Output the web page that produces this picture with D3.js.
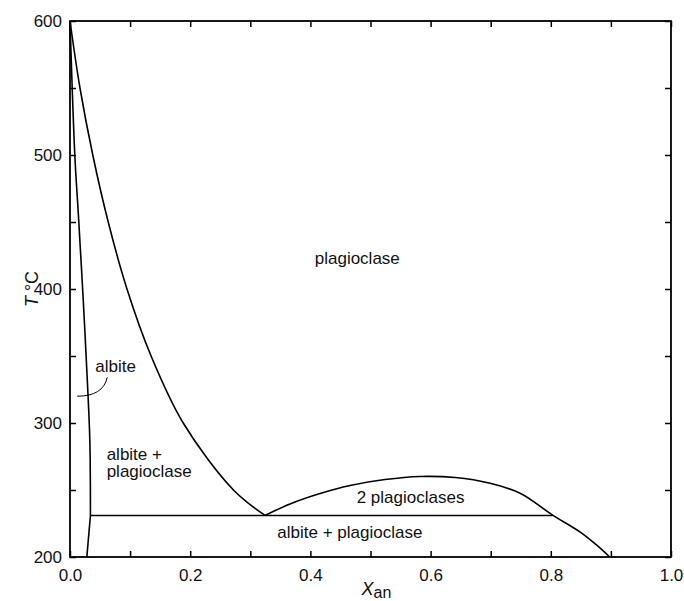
<!DOCTYPE html>
<html>
<head>
<meta charset="utf-8">
<script src="https://cdn.jsdelivr.net/npm/d3@7"></script>
<style>
  body { margin: 0; background: #fff; }
  text { font-family: "Liberation Sans", Arial, Helvetica, sans-serif; }
</style>
</head>
<body>
<div id="chart"></div>
<script>
// boundary curves, [X_an, T]
const albiteLine = [[0, 600], [0.008, 500], [0.014, 455], [0.022, 392], [0.029, 330], [0.033, 287], [0.034, 231]];
const albiteLow = [[0.034, 231], [0.028, 200]];
const plagLine = [[0, 600], [0.0166, 550], [0.0379, 500], [0.0636, 450], [0.0948, 400], [0.1349, 350],
  [0.1884, 300], [0.272, 250], [0.3245, 231]];
const solvus = [[0.3245, 231], [0.366, 239.6], [0.416, 247.4], [0.466, 253.4], [0.524, 257.8], [0.582, 260.1],
  [0.641, 259.3], [0.699, 255], [0.749, 247.6], [0.803, 231.3], [0.849, 218.6], [0.876, 209], [0.898, 200]];
const eutectoid = [[0.034, 231], [0.803, 231]];

const xTicks = d3.range(0, 1.01, 0.1);
const yTicks = d3.range(200, 601, 50);

const labels = [
  { t: "plagioclase", x: 0.478, y: 419, anchor: "middle" },
  { t: "albite", x: 0.042, y: 338, anchor: "start" },
  { t: "albite +", x: 0.061, y: 272.6, anchor: "start" },
  { t: "plagioclase", x: 0.061, y: 259.5, anchor: "start" },
  { t: "2 plagioclases", x: 0.477, y: 240.5, anchor: "start" },
  { t: "albite + plagioclase", x: 0.345, y: 214.2, anchor: "start" },
];
// leader from the albite label to its field
const leader = { from: [0.012, 320], ctrl: [0.055, 320], to: [0.062, 334] };

const width = 684, height = 601;
const margin = { top: 21, right: 13, bottom: 44, left: 70 };

const x = d3.scaleLinear().domain([0, 1]).range([margin.left, width - margin.right]);
const y = d3.scaleLinear().domain([200, 600]).range([height - margin.bottom, margin.top]);

const svg = d3.select("#chart").append("svg")
  .attr("width", width)
  .attr("height", height);

const fs = 17;
const fmtX = d => (Math.round(d * 10) % 2 === 0 ? d3.format(".1f")(d) : "");
const fmtY = d => (d % 100 === 0 ? d : "");

// axes with inward ticks
svg.append("g")
  .attr("transform", `translate(0,${y(200)})`)
  .call(d3.axisBottom(x).tickValues(xTicks).tickSizeInner(-6).tickSizeOuter(0).tickPadding(12).tickFormat(fmtX))
  .call(g => g.select(".domain").remove());
svg.append("g")
  .attr("transform", `translate(0,${y(600)})`)
  .call(d3.axisTop(x).tickValues(xTicks).tickSizeInner(-6).tickSizeOuter(0).tickFormat(""))
  .call(g => g.select(".domain").remove());
svg.append("g")
  .attr("transform", `translate(${x(0)},0)`)
  .call(d3.axisLeft(y).tickValues(yTicks).tickSizeInner(-6).tickSizeOuter(0).tickPadding(8).tickFormat(fmtY))
  .call(g => g.select(".domain").remove());
svg.append("g")
  .attr("transform", `translate(${x(1)},0)`)
  .call(d3.axisRight(y).tickValues(yTicks).tickSizeInner(-6).tickSizeOuter(0).tickFormat(""))
  .call(g => g.select(".domain").remove());

svg.selectAll(".tick line").attr("stroke", "#000").attr("stroke-width", 1.5);
svg.selectAll(".tick text").attr("font-size", fs).attr("fill", "#111");

svg.append("rect")
  .attr("x", x(0)).attr("y", y(600))
  .attr("width", x(1) - x(0)).attr("height", y(200) - y(600))
  .attr("fill", "none").attr("stroke", "#000").attr("stroke-width", 1.8);

const line = d3.line().x(d => x(d[0])).y(d => y(d[1]));

[
  [albiteLine, d3.curveCatmullRom],
  [albiteLow, d3.curveLinear],
  [plagLine, d3.curveCatmullRom],
  [solvus, d3.curveCatmullRom],
  [eutectoid, d3.curveLinear],
].forEach(([pts, curve]) => {
  svg.append("path")
    .attr("d", line.curve(curve)(pts))
    .attr("fill", "none")
    .attr("stroke", "#000")
    .attr("stroke-width", 1.6);
});

svg.append("path")
  .attr("d", `M${x(leader.from[0])},${y(leader.from[1])} Q${x(leader.ctrl[0])},${y(leader.ctrl[1])} ${x(leader.to[0])},${y(leader.to[1])}`)
  .attr("fill", "none").attr("stroke", "#000").attr("stroke-width", 1);

svg.selectAll(".lbl").data(labels).join("text")
  .attr("class", "lbl")
  .attr("x", d => x(d.x)).attr("y", d => y(d.y))
  .attr("text-anchor", d => d.anchor)
  .attr("font-size", fs).attr("fill", "#111")
  .text(d => d.t);

// axis titles
const xt = svg.append("text")
  .attr("x", x(0.51)).attr("y", 595)
  .attr("text-anchor", "middle").attr("font-size", fs + 1).attr("fill", "#111");
xt.append("tspan").attr("font-style", "italic").text("X");
xt.append("tspan").attr("dy", 3).attr("font-size", fs - 1).text("an");

const yt = svg.append("text")
  .attr("transform", `translate(38,${y(400)}) rotate(-90)`)
  .attr("text-anchor", "middle").attr("font-size", fs + 1).attr("fill", "#111");
yt.append("tspan").attr("font-style", "italic").text("T");
yt.append("tspan").text(" °C");
</script>
</body>
</html>
